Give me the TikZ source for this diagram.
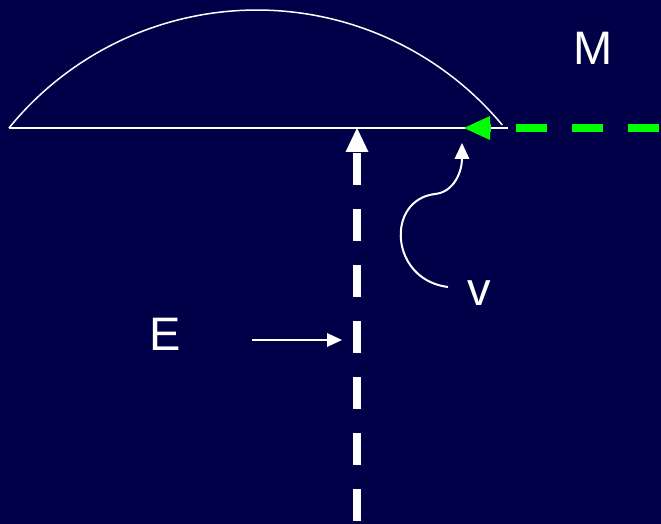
\documentclass[tikz,border=0pt]{standalone}
\usepackage{fontspec}
\setmainfont{Liberation Sans}
\usepackage{xcolor}
\usetikzlibrary{arrows.meta}
\definecolor{navy}{RGB}{0,0,72}
\definecolor{lightgreen}{RGB}{0,255,0}

\begin{document}
\begin{tikzpicture}[x=1pt, y=1pt, every node/.style={font=\fontsize{47}{50}\selectfont, text=white, inner sep=0pt},
    thinarrow/.style={draw=white, line width=2pt, -{Triangle[length=16pt, width=15pt, line width=0pt]}}]
    \useasboundingbox (0,0) rectangle (661,524);
    \fill[navy] (0,0) rectangle (661,524);
    \node (M) at (593,476) {M};
    \node (v) at (479.5,231) {v};
    \node (E) at (165.5,190) {E};
    % surface and arc
    \coordinate (left) at (9,396);
    \coordinate (right) at (508,396);
    \draw[white, line width=2pt] (left) -- (right);
    \draw[white, line width=1.5pt] (left) arc[start angle=140.9, end angle=39.8, radius=319.4];
    % incoming and normal
    \coordinate (mstart) at (661,396);
    \coordinate (mtip) at (464,396);
    \draw[lightgreen, line width=8pt, dash pattern=on 31pt off 25pt, dash phase=54pt, -{Triangle[length=26pt, width=24pt, line width=0pt]}] (mstart) -- (mtip);
    \coordinate (efoot) at (357,0);
    \coordinate (etip) at (357,396);
    \draw[white, line width=8pt, dash pattern=on 32pt off 24pt, dash phase=53pt, -{Triangle[length=24pt, width=23pt, line width=0pt]}] (efoot) -- (etip);
    % labels
    \coordinate (etail) at (252,184);
    \coordinate (ehead) at (342,184);
    \draw[thinarrow, -{Triangle[length=15pt, width=14pt, line width=0pt]}] (etail) -- (ehead);
    \coordinate (vtail) at (448,237);
    \coordinate (vbend) at (435,330);
    \coordinate (vtip) at (462,381);
    \draw[thinarrow] (vtail) .. controls (390,244) and (385,324) .. (vbend) .. controls (455,332) and (462,354) .. (vtip);
\end{tikzpicture}
\end{document}
